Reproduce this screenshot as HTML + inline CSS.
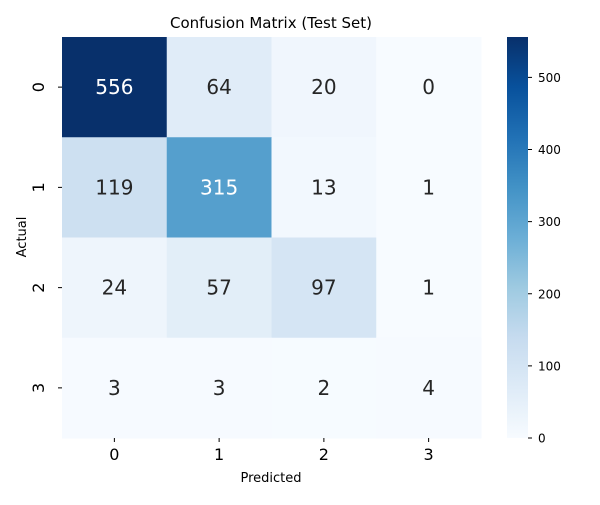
<!DOCTYPE html>
<html><head><meta charset="utf-8"><style>
body{margin:0;background:#fff;font-family:"Liberation Sans","DejaVu Sans",sans-serif;}
</style></head><body>
<svg width="600" height="500" xmlns="http://www.w3.org/2000/svg" font-family="DejaVu Sans, Liberation Sans, sans-serif">
<defs><linearGradient id="cbg" x1="0" y1="1" x2="0" y2="0">
<stop offset="0" stop-color="#f7fbff"/><stop offset="0.125" stop-color="#deebf7"/><stop offset="0.25" stop-color="#c6dbef"/><stop offset="0.375" stop-color="#9ecae1"/><stop offset="0.5" stop-color="#6baed6"/><stop offset="0.625" stop-color="#4292c6"/><stop offset="0.75" stop-color="#2171b5"/><stop offset="0.875" stop-color="#08519c"/><stop offset="1" stop-color="#08306b"/>
</linearGradient></defs>
<text x="271" y="28" text-anchor="middle" font-size="15">Confusion Matrix (Test Set)</text>
<g id="cells"></g>
<rect x="507" y="37" width="21" height="401" fill="url(#cbg)"/>
<g id="cbticks"></g>
<text x="271" y="482" text-anchor="middle" font-size="13">Predicted</text>
<text transform="translate(26,237) rotate(-90)" text-anchor="middle" font-size="13">Actual</text>
</svg>
<script>
const categories=["0","1","2","3"];
const row0=[556,64,20,0];
const row1=[119,315,13,1];
const row2=[24,57,97,1];
const row3=[3,3,2,4];
const cbTicks=[0,100,200,300,400,500];
const rows=[row0,row1,row2,row3];
const NS="http://www.w3.org/2000/svg";
const X0=62,X1=481,Y0=37,Y1=438;
const vmax=Math.max(...rows.flat()),vmin=0;
const cw=(X1-X0)/categories.length,ch=(Y1-Y0)/categories.length;
const stops=["#f7fbff","#deebf7","#c6dbef","#9ecae1","#6baed6","#4292c6","#2171b5","#08519c","#08306b"];
function hex(h){return [1,3,5].map(i=>parseInt(h.substr(i,2),16));}
function cmap(t){t=Math.max(0,Math.min(1,t));const p=t*8,i=Math.min(7,Math.floor(p)),f=p-i;const a=hex(stops[i]),b=hex(stops[i+1]);const c=a.map((v,k)=>Math.round(v+(b[k]-v)*f));return c;}
function relLum(c){const l=c.map(v=>{v/=255;return v<=0.03928?v/12.92:Math.pow((v+0.055)/1.055,2.4);});return 0.2126*l[0]+0.7152*l[1]+0.0722*l[2];}
function xs(i){return X0+i*cw;}
function ys(i){return Y0+i*ch;}
function cy(v){return Y1-(v-vmin)/(vmax-vmin)*(Y1-Y0);}
const g=document.getElementById('cells');
function mk(tag,attrs,parent){const e=document.createElementNS(NS,tag);for(const k in attrs)e.setAttribute(k,attrs[k]);parent.appendChild(e);return e;}
rows.forEach((r,ri)=>r.forEach((v,ci)=>{
 const c=cmap((v-vmin)/(vmax-vmin));
 const rect=mk('rect',{x:xs(ci),y:ys(ri),width:cw+0.5,height:ch+0.5,fill:`rgb(${c})`},g);
 
 
 const t=mk('text',{x:xs(ci)+cw/2,y:ys(ri)+ch/2+7,'text-anchor':'middle','font-size':'20',fill:relLum(c)>0.408?'#262626':'#ffffff'},g);
 t.textContent=v;
 
 
}));
categories.forEach((c,i)=>{
 const l=mk('line',{x1:xs(i)+cw/2,x2:xs(i)+cw/2,y1:Y1,y2:Y1+4,stroke:'#000','stroke-width':1},g);
 
 
 const t=mk('text',{x:xs(i)+cw/2,y:Y1+22,'text-anchor':'middle','font-size':'16'},g);
 t.textContent=c;
 
 
 const l2=mk('line',{x1:X0-4,x2:X0,y1:ys(i)+ch/2,y2:ys(i)+ch/2,stroke:'#000','stroke-width':1},g);
 
 
 const t2=mk('text',{transform:`translate(${X0-18},${ys(i)+ch/2}) rotate(-90)`,'text-anchor':'middle','font-size':'16'},g);
 t2.textContent=c;
 
 
});
const cb=document.getElementById('cbticks');
cbTicks.forEach(v=>{
 const y=cy(v);
 const l=mk('line',{x1:528,x2:532,y1:y,y2:y,stroke:'#000','stroke-width':1},cb);
 
 
 const t=mk('text',{x:538,y:y+4.5,'font-size':'12'},cb);
 t.textContent=v;
 
 
});
</script>
</body></html>
